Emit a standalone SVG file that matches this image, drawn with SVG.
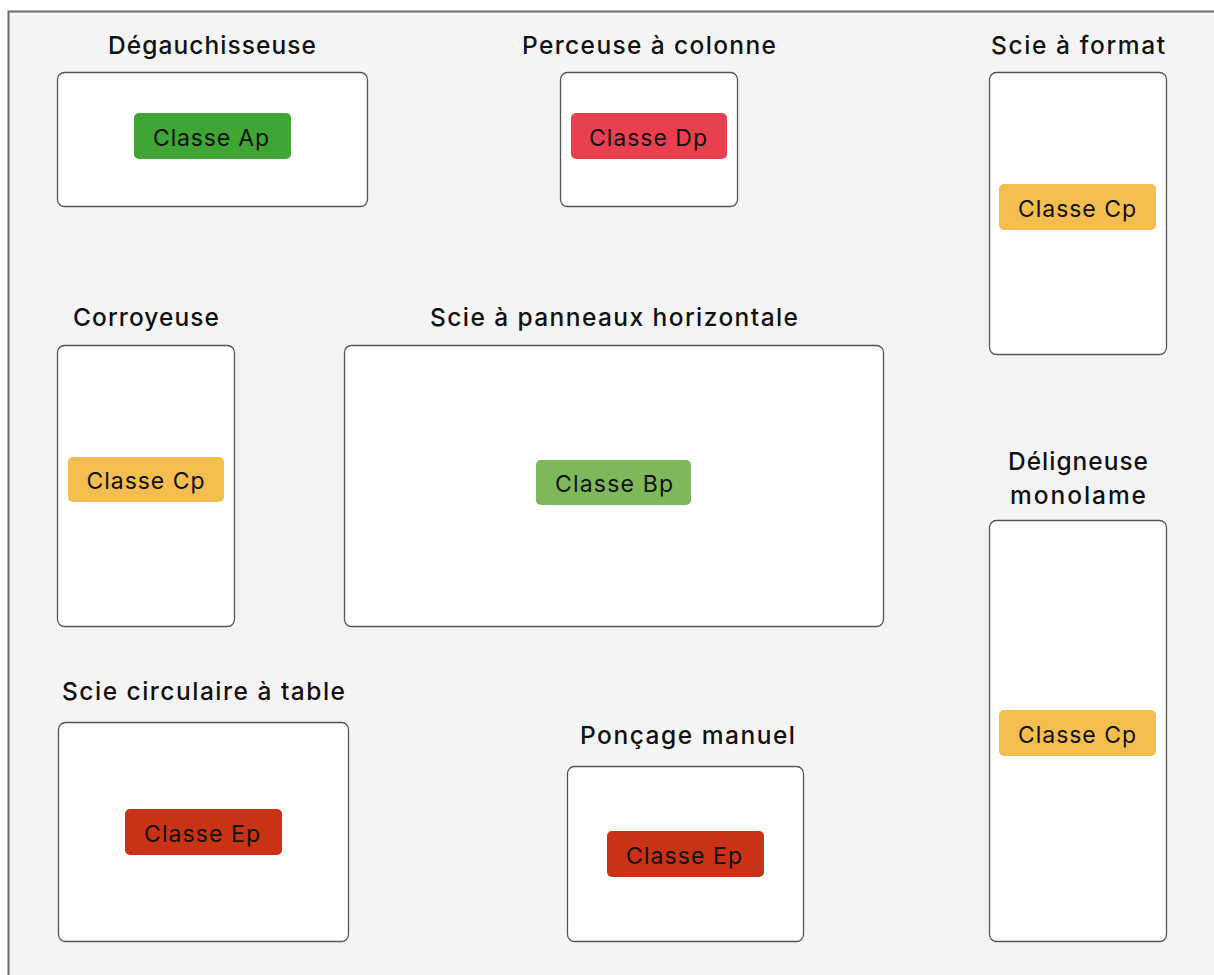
<svg xmlns="http://www.w3.org/2000/svg" width="1214" height="975" viewBox="0 0 1214 975">
<style>
.frame{fill:#f4f4f4;stroke:#6b6b70;stroke-width:2}
.box{fill:#ffffff;stroke:#55555c;stroke-width:1.3}
.title{font-family:Inter,"Noto Sans",sans-serif;font-size:24.5px;font-weight:500;fill:#111;text-anchor:middle}
.lbl{font-family:Inter,"Noto Sans",sans-serif;font-size:23px;fill:#111;text-anchor:middle}
.ap{fill:#3fa535}.bp{fill:#7eb85a}.cp{fill:#f4bd50}.dp{fill:#e8404e}.ep{fill:#c83215}
</style>
<rect x="0" y="0" width="1214" height="975" fill="#ffffff"/>
<rect class="frame" x="8.5" y="11.5" width="1215" height="975"/>
<g id="degauchisseuse">
<text class="title" x="212" y="54" textLength="208" lengthAdjust="spacing">Dégauchisseuse</text>
<rect class="box" x="57.5" y="72.5" width="310" height="134" rx="7"/>
<rect class="ap" x="134" y="113" width="157" height="46" rx="5"/>
<text class="lbl" x="211" y="146" textLength="116" lengthAdjust="spacing">Classe Ap</text>
</g>
<g id="perceuse">
<text class="title" x="649" y="54" textLength="254" lengthAdjust="spacing">Perceuse à colonne</text>
<rect class="box" x="560.5" y="72.5" width="177" height="134" rx="7"/>
<rect class="dp" x="571" y="113" width="156" height="46" rx="5"/>
<text class="lbl" x="648" y="146" textLength="118" lengthAdjust="spacing">Classe Dp</text>
</g>
<g id="scie-format">
<text class="title" x="1078" y="54" textLength="174" lengthAdjust="spacing">Scie à format</text>
<rect class="box" x="989.5" y="72.5" width="177" height="282" rx="7"/>
<rect class="cp" x="999" y="184" width="157" height="46" rx="5"/>
<text class="lbl" x="1077" y="217" textLength="118" lengthAdjust="spacing">Classe Cp</text>
</g>
<g id="corroyeuse">
<text class="title" x="146" y="326" textLength="146" lengthAdjust="spacing">Corroyeuse</text>
<rect class="box" x="57.5" y="345.5" width="177" height="281" rx="7"/>
<rect class="cp" x="68" y="457" width="156" height="45" rx="5"/>
<text class="lbl" x="145.5" y="489" textLength="118" lengthAdjust="spacing">Classe Cp</text>
</g>
<g id="scie-panneaux">
<text class="title" x="614" y="326" textLength="368" lengthAdjust="spacing">Scie à panneaux horizontale</text>
<rect class="box" x="344.5" y="345.5" width="539" height="281" rx="7"/>
<rect class="bp" x="536" y="460" width="155" height="45" rx="5"/>
<text class="lbl" x="614" y="492" textLength="118" lengthAdjust="spacing">Classe Bp</text>
</g>
<g id="deligneuse">
<text class="title" x="1078" y="470" textLength="140" lengthAdjust="spacing">Déligneuse</text>
<text class="title" x="1078" y="504" textLength="136" lengthAdjust="spacing">monolame</text>
<rect class="box" x="989.5" y="520.5" width="177" height="421" rx="7"/>
<rect class="cp" x="999" y="710" width="157" height="46" rx="5"/>
<text class="lbl" x="1077" y="743" textLength="118" lengthAdjust="spacing">Classe Cp</text>
</g>
<g id="scie-circulaire">
<text class="title" x="203.5" y="700" textLength="283" lengthAdjust="spacing">Scie circulaire à table</text>
<rect class="box" x="58.5" y="722.5" width="290" height="219" rx="7"/>
<rect class="ep" x="125" y="809" width="157" height="46" rx="5"/>
<text class="lbl" x="202" y="842" textLength="116" lengthAdjust="spacing">Classe Ep</text>
</g>
<g id="poncage">
<text class="title" x="687.5" y="744" textLength="215" lengthAdjust="spacing">Ponçage manuel</text>
<rect class="box" x="567.5" y="766.5" width="236" height="175" rx="7"/>
<rect class="ep" x="607" y="831" width="157" height="46" rx="5"/>
<text class="lbl" x="684" y="864" textLength="116" lengthAdjust="spacing">Classe Ep</text>
</g>
<g id="connectors"></g>
</svg>
